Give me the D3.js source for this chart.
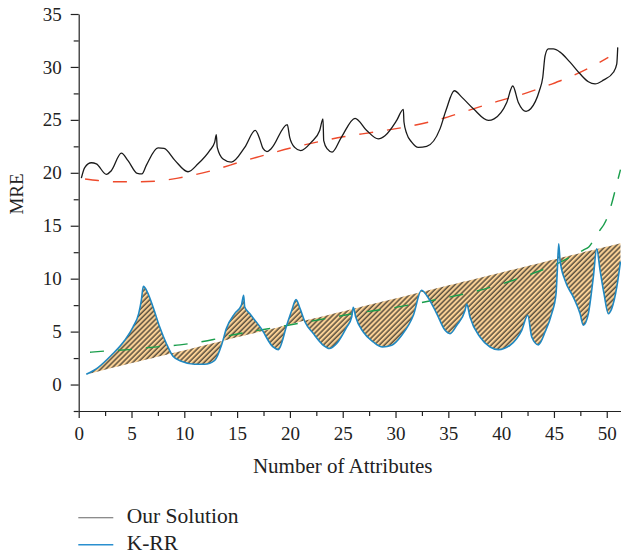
<!DOCTYPE html>
<html>
<head>
<meta charset="utf-8">
<script src="https://cdn.jsdelivr.net/npm/d3@7"></script>
<style>
  html, body { margin: 0; padding: 0; background: #fff; }
  svg { display: block; }
  text { font-family: "Liberation Serif", "Times New Roman", serif; fill: #222; }
</style>
</head>
<body>
<svg id="chart" width="621" height="557"></svg>
<script>
// ---- data ----
const xTicks = [0, 5, 10, 15, 20, 25, 30, 35, 40, 45, 50];
const yTicks = [0, 5, 10, 15, 20, 25, 30, 35];
const xMinor = [2.5, 7.5, 12.5, 17.5, 22.5, 27.5, 32.5, 37.5, 42.5, 47.5];
const yMinor = [-2.5, 2.5, 7.5, 12.5, 17.5, 22.5, 27.5, 32.5];
const xDomain = [0, 51.35];
const yDomain = [-2.5, 35];
const xLabel = "Number of Attributes";
const yLabel = "MRE";
const seriesNames = ["Our Solution", "K-RR"];

const ourSolution = [
  [0.25,19.5],[0.57,20.5],[1.2,20.95],[1.67,20.85],[2.62,19.85],[3.09,20.2],[4.04,21.85],[4.67,21.15],
  [5.55,19.95],[5.99,19.9],[6.4,20.7],[7.51,22.35],[8.08,22.3],[9.09,21.2],[10.35,20.1],[11.3,20.85],
  [12.4,22.1],[12.88,22.9],[13.03,23.6],[13.12,22.4],[13.67,21.3],[14.45,21.0],[15.72,22.4],[16.72,24.0],
  [17.14,23.2],[17.45,22.3],[17.83,22.0],[18.24,22.3],[19.75,24.55],[19.98,23.35],[20.45,22.4],[21.02,22.1],
  [22.03,22.9],[22.82,24.0],[23.13,25.1],[23.2,23.05],[23.54,22.25],[23.99,21.95],[24.87,23.35],[26.17,25.15],
  [27.27,24.0],[28.37,23.2],[29.0,23.5],[30.11,24.95],[30.74,26.0],[30.8,24.8],[31.06,23.7],[31.53,22.9],
  [32.16,22.4],[32.95,22.5],[34.21,24.15],[34.78,25.9],[35.57,27.75],[36.27,27.15],[37.37,26.05],[38.79,24.95],
  [39.33,25.1],[40.53,26.65],[41.1,28.2],[41.63,26.65],[42.36,25.8],[42.8,26.05],[43.62,27.75],[43.94,29.0],
  [44.16,31.05],[44.47,31.7],[44.94,31.7],[45.58,31.4],[46.52,30.45],[47.47,29.35],[48.26,28.6],[48.89,28.4],
  [49.68,28.75],[50.63,29.5],[50.95,30.3],[51.04,31.85]
];

const kRR = [
  [0.72,0.97],[1.83,1.6],[3.09,2.76],[4.36,4.18],[5.14,5.43],[5.68,6.7],[5.93,7.95],[6.12,9.27],[6.5,8.74],
  [7.04,7.32],[7.67,5.43],[8.3,3.87],[8.93,2.67],[9.72,2.2],[10.98,1.92],[11.93,1.92],[12.88,2.29],[13.57,3.87],
  [13.98,5.28],[14.77,6.7],[15.4,7.48],[15.62,8.42],[15.72,7.32],[16.19,6.7],[17.29,5.28],[18.4,3.55],[18.9,3.3],
  [19.7,5.6],[20.17,7.0],[20.58,8.02],[20.96,7.17],[21.43,5.91],[22.22,4.81],[23.16,3.71],[23.73,3.4],[24.43,3.87],
  [25.38,5.43],[25.85,6.38],[26.0,7.3],[26.23,6.38],[26.95,4.96],[27.9,4.02],[28.77,3.55],[29.64,3.71],[30.59,4.65],
  [31.69,6.54],[32.45,8.9],[32.95,8.42],[33.9,6.7],[34.69,5.12],[35.16,4.81],[35.8,5.6],[36.58,7.0],[36.74,7.6],
  [37.05,6.38],[38.0,4.49],[38.95,3.55],[39.74,3.3],[40.84,3.71],[41.95,5.12],[42.52,6.54],[42.9,4.49],[43.52,3.75],
  [44.16,4.96],[44.79,6.7],[45.2,8.58],[45.32,10.78],[45.45,13.3],[45.58,11.73],[46.05,9.84],[46.84,8.26],
  [47.47,6.7],[47.78,5.6],[48.26,6.7],[48.73,10.15],[49.05,12.83],[49.37,10.78],[49.74,8.58],[50.15,6.7],
  [50.47,7.17],[50.95,9.2],[51.3,11.6]
];

const ourTrend = [
  [0.6,19.42],[1.83,19.27],[3.72,19.15],[5.5,19.15],[7.2,19.2],[9.4,19.5],[12.56,20.2],[15.72,21.15],
  [17.17,21.55],[20.32,22.4],[22.54,22.9],[25.06,23.4],[28,23.85],[31.06,24.35],[34,25.0],[36.74,25.85],
  [39.5,26.7],[42.42,27.55],[44.7,28.35],[46.84,29.2],[48.5,30.0],[50.15,30.9]
];

const kRRTrend = [
  [1.07,3.05],[2.96,3.2],[4.8,3.3],[6.75,3.5],[9.6,3.75],[12.75,4.25],[14.64,4.7],[17.8,5.25],[20.96,5.8],
  [23.8,6.3],[26.64,6.8],[29.17,7.15],[32.0,7.65],[34.53,8.15],[36.74,8.6],[40.2,9.55],[42.74,10.4],
  [45.27,11.4],[47.78,12.7],[48.3,13.0],[49.11,14.25],[49.93,15.5],[50.47,17.1],[50.95,18.95],[51.3,20.3]
];

// straight reference line that bounds the hatched band
const kRRBaseline = [[0.72,0.97],[51.35,13.36]];

// ---- chart ----
const svg = d3.select("#chart");
const x = d3.scaleLinear().domain(xDomain).range([78.7, 621]);
const y = d3.scaleLinear().domain(yDomain).range([411, 14]);

const baseAt = d3.scaleLinear().domain(kRRBaseline.map(d => d[0])).range(kRRBaseline.map(d => d[1]));

const defs = svg.append("defs");
const P = 3.6;
const pat = defs.append("pattern")
  .attr("id", "hatch")
  .attr("patternUnits", "userSpaceOnUse")
  .attr("width", P).attr("height", P)
  .attr("patternTransform", "rotate(45)");
pat.append("rect").attr("width", P).attr("height", P).attr("fill", "#f9d095");
pat.append("line").attr("x1", 1).attr("y1", 0).attr("x2", 1).attr("y2", P)
  .attr("stroke", "#1a1a1a").attr("stroke-width", 1.05);

const curve = d3.curveMonotoneX;

// hatched band between K-RR and the straight line
svg.append("path")
  .datum(kRR)
  .attr("d", d3.area().curve(curve)
    .x(d => x(d[0]))
    .y0(d => y(baseAt(d[0])))
    .y1(d => y(d[1])))
  .attr("fill", "url(#hatch)");

// axes
const gy = svg.append("g").attr("transform", `translate(${x(0)},0)`);
gy.call(d3.axisLeft(y).tickValues(yTicks).tickSize(8).tickSizeOuter(0).tickPadding(9));
const gyMinor = svg.append("g").attr("transform", `translate(${x(0)},0)`);
gyMinor.call(d3.axisLeft(y).tickValues(yMinor).tickSize(5).tickSizeOuter(0).tickFormat(""));
gyMinor.select(".domain").remove();

const gx = svg.append("g").attr("transform", `translate(0,${y(-2.5)})`);
gx.call(d3.axisBottom(x).tickValues(xTicks).tickSize(7).tickSizeOuter(0).tickPadding(9));
const gxMinor = svg.append("g").attr("transform", `translate(0,${y(-2.5)})`);
gxMinor.call(d3.axisBottom(x).tickValues(xMinor).tickSize(5).tickSizeOuter(0).tickFormat(""));
gxMinor.select(".domain").remove();

svg.selectAll(".domain, .tick line").attr("stroke", "#222").attr("stroke-width", 1.2);
svg.selectAll(".tick text")
  .style("font-family", '"Liberation Serif", "Times New Roman", serif')
  .style("font-size", "19px").attr("fill", "#222");

// trend lines
svg.append("path").datum(kRRTrend)
  .attr("d", d3.line().curve(d3.curveMonotoneX).x(d => x(d[0])).y(d => y(d[1])))
  .attr("fill", "none").attr("stroke", "#1a9e4c").attr("stroke-width", 1.4)
  .attr("stroke-dasharray", "14,14");

svg.append("path").datum(ourTrend)
  .attr("d", d3.line().curve(d3.curveMonotoneX).x(d => x(d[0])).y(d => y(d[1])))
  .attr("fill", "none").attr("stroke", "#ee4a2c").attr("stroke-width", 1.4)
  .attr("stroke-dasharray", "14,14");

// series lines
svg.append("path").datum(kRR)
  .attr("d", d3.line().curve(curve).x(d => x(d[0])).y(d => y(d[1])))
  .attr("fill", "none").attr("stroke", "#1f88c2").attr("stroke-width", 1.6)
  .attr("stroke-linejoin", "round");

svg.append("path").datum(ourSolution)
  .attr("d", d3.line().curve(curve).x(d => x(d[0])).y(d => y(d[1])))
  .attr("fill", "none").attr("stroke", "#1a1a1a").attr("stroke-width", 1.3)
  .attr("stroke-linejoin", "round");

// axis titles
svg.append("text")
  .attr("x", (x(0) + x(50)) / 2).attr("y", 473)
  .attr("text-anchor", "middle")
  .style("font-size", "21px")
  .text(xLabel);

svg.append("text")
  .attr("transform", `translate(23,194) rotate(-90)`)
  .attr("text-anchor", "middle")
  .style("font-size", "19px")
  .text(yLabel);

// legend
const legendColors = ["#666", "#2a8fcf"];
const legend = svg.append("g");
seriesNames.forEach((name, i) => {
  const ly = 517.7 + i * 27;
  legend.append("line")
    .attr("x1", 78.3).attr("x2", 113.3).attr("y1", ly).attr("y2", ly)
    .attr("stroke", legendColors[i]).attr("stroke-width", i === 0 ? 1.1 : 1.5);
  legend.append("text")
    .attr("x", 126.7).attr("y", ly + 5.6)
    .style("font-size", "21.5px")
    .text(name);
});
</script>
</body>
</html>
